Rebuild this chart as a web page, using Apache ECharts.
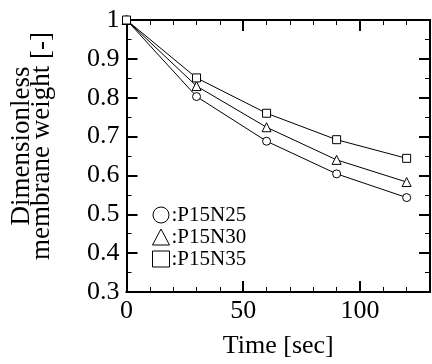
<!DOCTYPE html>
<html>
<head>
<meta charset="utf-8">
<script src="https://cdn.jsdelivr.net/npm/echarts@6/dist/echarts.min.js"></script>
<style>html,body{margin:0;padding:0;background:#fff}#c{width:432px;height:364px}</style>
</head>
<body>
<div id="c"></div>
<script>
var time = [0, 30, 60, 90, 120];
var p15n25 = [1, 0.803, 0.688, 0.604, 0.543];
var p15n30 = [1, 0.830, 0.724, 0.640, 0.583];
var p15n35 = [1, 0.851, 0.760, 0.692, 0.644];
var seriesNames = ['P15N25', 'P15N30', 'P15N35'];
var xTicksMajor = 50, xTicksMinor = 10;
var yTicksMajor = 0.1, yTicksMinor = 0.05;

var FONT = 'Liberation Serif';
function pairs(ys){ return time.map(function(t,i){ return [t, ys[i]]; }); }

function xAx(pos, interval, len, width, labels, name){
  var a = {
    type:'value', gridIndex:0, position:pos, min:0, max:130, interval:interval,
    axisLine:{show:true, onZero:false, lineStyle:{color:'#000', width:2}},
    axisTick:{show:true, inside:true, length:len, lineStyle:{color:'#000', width:width}},
    axisLabel:{show:labels, color:'#000', fontFamily:FONT, fontSize:26, margin:6, showMaxLabel:false},
    splitLine:{show:false}
  };
  if (name){
    a.name = name; a.nameLocation = 'middle'; a.nameGap = 41;
    a.nameTextStyle = {color:'#000', fontFamily:FONT, fontSize:26};
  }
  return a;
}
function yAx(pos, interval, len, width, labels, name){
  var a = {
    type:'value', gridIndex:0, position:pos, min:0.3, max:1, interval:interval,
    axisLine:{show:true, onZero:false, lineStyle:{color:'#000', width:2}},
    axisTick:{show:true, inside:true, length:len, lineStyle:{color:'#000', width:width}},
    axisLabel:{show:labels, color:'#000', fontFamily:FONT, fontSize:26, margin:7},
    splitLine:{show:false}
  };
  if (name){
    a.name = name; a.nameLocation = 'middle'; a.nameGap = 75; a.nameRotate = 90;
    a.nameTextStyle = {color:'#000', fontFamily:FONT, fontSize:27, lineHeight:20, padding:[0,0,0,20]};
  }
  return a;
}

var symbols = ['circle', 'triangle', 'rect'];
var data = [p15n25, p15n30, p15n35];
var series = seriesNames.map(function(n, i){
  return {
    name:n, type:'line', xAxisIndex:0, yAxisIndex:0, data:pairs(data[i]),
    symbol:symbols[i], symbolSize: i===1 ? 9 : 8, showAllSymbol:true,
    lineStyle:{color:'#000', width:1},
    itemStyle:{color:'#fff', borderColor:'#000', borderWidth:1},
    z: 3
  };
});

var chart = echarts.init(document.getElementById('c'), null, {renderer:'canvas'});
chart.setOption({
  animation:false,
  backgroundColor:'#fff',
  grid:{left:125, top:20, width:305, height:277, containLabel:false},
  xAxis:[
    xAx('bottom', xTicksMajor, 11, 2, true, 'Time [sec]'),
    xAx('top', xTicksMajor, 11, 2, false),
    xAx('bottom', xTicksMinor, 5, 1, false),
    xAx('top', xTicksMinor, 5, 1, false)
  ],
  yAxis:[
    yAx('left', yTicksMajor, 11, 2, true, 'Dimensionless\nmembrane weight [-]'),
    yAx('right', yTicksMajor, 11, 2, false),
    yAx('left', yTicksMinor, 5, 1, false),
    yAx('right', yTicksMinor, 5, 1, false)
  ],
  legend:{
    orient:'vertical', left:147, top:199, itemWidth:17, itemHeight:16, itemGap:0,
    data: seriesNames.map(function(n,i){ return {name:n, icon:symbols[i]}; }),
    formatter: function(n){ return ':' + n; },
    textStyle:{color:'#000', fontFamily:FONT, fontSize:21, lineHeight:22, padding:[0,0,0,-3]},
    itemStyle:{color:'#fff', borderColor:'#000', borderWidth:1},
    lineStyle:{opacity:0}
  },
  series:series
});
</script>
</body>
</html>
